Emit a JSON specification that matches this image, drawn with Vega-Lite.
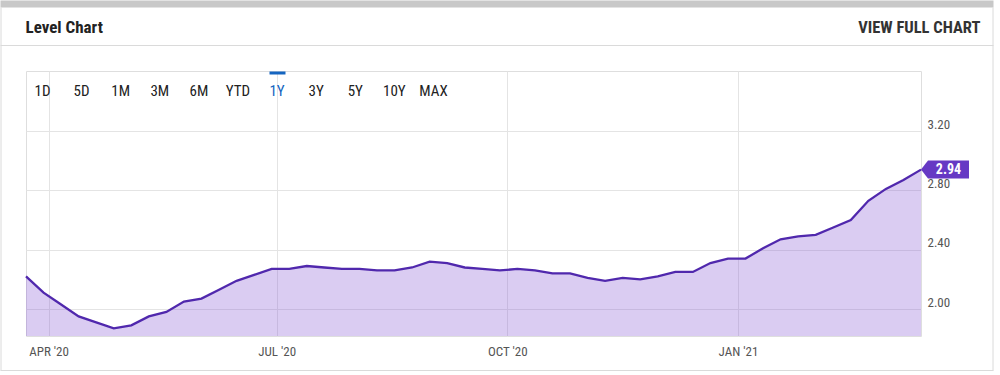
{
  "$schema": "https://vega.github.io/schema/vega-lite/v6.json",
  "width": 895,
  "height": 265,
  "autosize": {"type": "none"},
  "padding": {"left": 26, "top": 71, "right": 79, "bottom": 39},
  "background": "white",
  "config": {
    "view": {"stroke": "#dedede", "strokeWidth": 1},
    "font": "Roboto"
  },
  "datasets": {
    "level": [
      {"date": "2020-03-23", "value": 2.22},
      {"date": "2020-03-30", "value": 2.11},
      {"date": "2020-04-06", "value": 2.03},
      {"date": "2020-04-13", "value": 1.95},
      {"date": "2020-04-20", "value": 1.91},
      {"date": "2020-04-27", "value": 1.87},
      {"date": "2020-05-04", "value": 1.89},
      {"date": "2020-05-11", "value": 1.95},
      {"date": "2020-05-18", "value": 1.98},
      {"date": "2020-05-25", "value": 2.05},
      {"date": "2020-06-01", "value": 2.07},
      {"date": "2020-06-08", "value": 2.13},
      {"date": "2020-06-15", "value": 2.19},
      {"date": "2020-06-22", "value": 2.23},
      {"date": "2020-06-29", "value": 2.27},
      {"date": "2020-07-06", "value": 2.27},
      {"date": "2020-07-13", "value": 2.29},
      {"date": "2020-07-20", "value": 2.28},
      {"date": "2020-07-27", "value": 2.27},
      {"date": "2020-08-03", "value": 2.27},
      {"date": "2020-08-10", "value": 2.26},
      {"date": "2020-08-17", "value": 2.26},
      {"date": "2020-08-24", "value": 2.28},
      {"date": "2020-08-31", "value": 2.32},
      {"date": "2020-09-07", "value": 2.31},
      {"date": "2020-09-14", "value": 2.28},
      {"date": "2020-09-21", "value": 2.27},
      {"date": "2020-09-28", "value": 2.26},
      {"date": "2020-10-05", "value": 2.27},
      {"date": "2020-10-12", "value": 2.26},
      {"date": "2020-10-19", "value": 2.24},
      {"date": "2020-10-26", "value": 2.24},
      {"date": "2020-11-02", "value": 2.21},
      {"date": "2020-11-09", "value": 2.19},
      {"date": "2020-11-16", "value": 2.21},
      {"date": "2020-11-23", "value": 2.20},
      {"date": "2020-11-30", "value": 2.22},
      {"date": "2020-12-07", "value": 2.25},
      {"date": "2020-12-14", "value": 2.25},
      {"date": "2020-12-21", "value": 2.31},
      {"date": "2020-12-28", "value": 2.34},
      {"date": "2021-01-04", "value": 2.34},
      {"date": "2021-01-11", "value": 2.41},
      {"date": "2021-01-18", "value": 2.47},
      {"date": "2021-01-25", "value": 2.49},
      {"date": "2021-02-01", "value": 2.50},
      {"date": "2021-02-08", "value": 2.55},
      {"date": "2021-02-15", "value": 2.60},
      {"date": "2021-02-22", "value": 2.73},
      {"date": "2021-03-01", "value": 2.81},
      {"date": "2021-03-08", "value": 2.87},
      {"date": "2021-03-15", "value": 2.94}
    ],
    "buttons": [
      {"label": "1D"}, {"label": "5D"}, {"label": "1M"}, {"label": "3M"},
      {"label": "6M"}, {"label": "YTD"}, {"label": "1Y"}, {"label": "3Y"},
      {"label": "5Y"}, {"label": "10Y"}, {"label": "MAX"}
    ]
  },
  "layer": [
    {
      "data": {"name": "level"},
      "encoding": {
        "x": {
          "field": "date",
          "type": "temporal",
          "scale": {"type": "utc", "nice": false},
          "axis": {
            "values": [
              {"year": 2020, "month": 4, "date": 1, "utc": true},
              {"year": 2020, "month": 7, "date": 1, "utc": true},
              {"year": 2020, "month": 10, "date": 1, "utc": true},
              {"year": 2021, "month": 1, "date": 1, "utc": true}
            ],
            "labelExpr": "upper(utcFormat(datum.value, \"%b '%y\"))",
            "title": null,
            "grid": true,
            "gridColor": "#e4e4e4",
            "domain": false,
            "ticks": false,
            "labelPadding": 9,
            "labelFontSize": 13,
            "labelColor": "#555555",
            "labelFont": "Roboto Condensed, Roboto"
          }
        },
        "y": {
          "field": "value",
          "type": "quantitative",
          "scale": {"domain": [1.818, 3.605], "nice": false, "zero": false},
          "axis": {
            "orient": "right",
            "values": [2.0, 2.4, 2.8, 3.2],
            "format": ".2f",
            "grid": true,
            "gridColor": "#e4e4e4",
            "domain": false,
            "ticks": false,
            "labelPadding": 6,
            "labelOffset": -7,
            "labelFontSize": 13,
            "labelColor": "#555555",
            "labelFont": "Roboto Condensed, Roboto",
            "title": "Level Chart",
            "titleAngle": 0,
            "titleX": -896,
            "titleY": -44,
            "titleAlign": "left",
            "titleBaseline": "middle",
            "titleFontSize": 17,
            "titleFontWeight": "bold",
            "titleColor": "#222222",
            "titleFont": "Roboto Condensed, Roboto"
          }
        }
      },
      "layer": [
        {"mark": {"type": "area", "fill": "#8455d4", "fillOpacity": 0.3, "clip": true}},
        {"mark": {"type": "line", "stroke": "#5028ad", "strokeWidth": 2.3}},
        {
          "transform": [
            {"joinaggregate": [{"op": "max", "field": "date", "as": "maxdate"}]},
            {"filter": "+datum.date === +datum.maxdate"}
          ],
          "layer": [
            {"mark": {"type": "point", "shape": "M0,0L0.7,-0.9L4.8,-0.9L4.8,0.9L0.7,0.9Z", "size": 400, "filled": true, "color": "#6639c4", "opacity": 1}},
            {
              "mark": {"type": "text", "dx": 27.5, "align": "center", "baseline": "middle", "fontSize": 14, "fontWeight": "bold", "color": "white", "font": "Roboto Condensed, Roboto"},
              "encoding": {"text": {"field": "value", "type": "quantitative", "format": ".2f"}}
            }
          ]
        }
      ]
    },
    {
      "data": {"name": "buttons"},
      "mark": {"type": "point", "opacity": 0},
      "encoding": {
        "x": {
          "field": "label",
          "type": "nominal",
          "sort": null,
          "scale": {"type": "point", "range": [16, 407], "padding": 0},
          "axis": {
            "orient": "top",
            "title": "VIEW FULL CHART",
            "titleX": 954,
            "titleY": -44,
            "titleAlign": "right",
            "titleBaseline": "middle",
            "titleAngle": 0,
            "titleFontSize": 16.5,
            "titleFontWeight": "bold",
            "titleColor": "#333333",
            "titleFont": "Roboto Condensed, Roboto",
            "domain": false,
            "grid": false,
            "ticks": true,
            "tickSize": -3,
            "tickWidth": 16,
            "tickColor": {"condition": {"test": "datum.value === '1Y'", "value": "#1565c0"}, "value": "transparent"},
            "labelPadding": -16,
            "labelBaseline": "middle",
            "labelAngle": 0,
            "labelFontSize": 15,
            "labelFont": "Roboto Condensed, Roboto",
            "labelColor": {"condition": {"test": "datum.value === '1Y'", "value": "#1565c0"}, "value": "#222222"}
          }
        }
      }
    },
    {
      "data": {"values": [{}]},
      "mark": {"type": "point", "opacity": 0},
      "encoding": {
        "x": {
          "datum": 0,
          "type": "quantitative",
          "scale": {"domain": [0, 1], "range": [-26, 967]},
          "axis": {"orient": "top", "offset": 67.5, "domain": true, "domainColor": "#c8c8c8", "domainWidth": 7, "grid": false, "ticks": false, "labels": false, "title": null}
        }
      }
    },
    {
      "data": {"values": [{}]},
      "mark": {"type": "point", "opacity": 0},
      "encoding": {
        "x": {
          "datum": 0,
          "type": "quantitative",
          "scale": {"domain": [0, 1], "range": [-26, 967]},
          "axis": {"orient": "top", "offset": 26, "domain": true, "domainColor": "#dadada", "domainWidth": 1, "grid": false, "ticks": false, "labels": false, "title": null}
        }
      }
    },
    {
      "data": {"values": [{}]},
      "mark": {"type": "point", "opacity": 0},
      "encoding": {
        "x": {
          "datum": 0,
          "type": "quantitative",
          "scale": {"domain": [0, 1], "range": [-26, 967]},
          "axis": {"orient": "bottom", "offset": 34, "domain": true, "domainColor": "#dadada", "domainWidth": 1, "grid": false, "ticks": false, "labels": false, "title": null}
        }
      }
    },
    {
      "data": {"values": [{}]},
      "mark": {"type": "point", "opacity": 0},
      "encoding": {
        "y": {
          "datum": 0,
          "type": "quantitative",
          "scale": {"domain": [0, 1], "range": [299, -64]},
          "axis": {"orient": "left", "offset": 25.5, "domain": true, "domainColor": "#dadada", "domainWidth": 1, "grid": false, "ticks": false, "labels": false, "title": null}
        }
      }
    },
    {
      "data": {"values": [{}]},
      "mark": {"type": "point", "opacity": 0},
      "encoding": {
        "y": {
          "datum": 0,
          "type": "quantitative",
          "scale": {"domain": [0, 1], "range": [299, -64]},
          "axis": {"orient": "right", "offset": 71.5, "domain": true, "domainColor": "#dadada", "domainWidth": 1, "grid": false, "ticks": false, "labels": false, "title": null}
        }
      }
    }
  ],
  "resolve": {
    "scale": {"x": "independent", "y": "independent"},
    "axis": {"x": "independent", "y": "independent"}
  }
}
